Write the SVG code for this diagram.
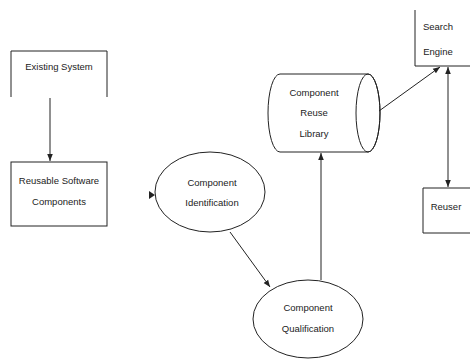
<svg xmlns="http://www.w3.org/2000/svg" width="470" height="361" viewBox="0 0 470 361">
<defs>
<style>
.s{fill:none;stroke:#222;stroke-width:1}
.w{fill:#fff;stroke:#222;stroke-width:1}
text{font-family:"Liberation Sans",Arial,sans-serif;font-size:9.5px;fill:#222;text-anchor:middle}
</style>
<marker id="ah" viewBox="0 0 10 10" refX="10" refY="5" markerWidth="7" markerHeight="7" orient="auto-start-reverse" markerUnits="userSpaceOnUse">
<path d="M0,1 L10,5 L0,9 Z" fill="#222"/>
</marker>
</defs>
<rect width="470" height="361" fill="#fff"/>
<g id="existing-system">
<path class="s" d="M11,97 V51 H107 V97"/>
<text x="59" y="70">Existing System</text>
</g>
<g id="reusable-components">
<rect class="w" x="11" y="162" width="96" height="64"/>
<text x="59" y="184">Reusable Software</text>
<text x="59" y="205">Components</text>
</g>
<g id="component-identification">
<ellipse class="w" cx="210" cy="192" rx="55" ry="40"/>
<text x="212" y="186">Component</text>
<text x="212" y="206">Identification</text>
</g>
<g id="component-qualification">
<ellipse class="w" cx="308" cy="319" rx="55" ry="39"/>
<text x="308" y="311">Component</text>
<text x="308" y="332">Qualification</text>
</g>
<g id="reuse-library">
<path class="w" d="M280,74 H368 A12,39 0 0 1 368,152 H280 A12,39 0 0 1 280,74 Z"/>
<ellipse class="s" cx="368" cy="113" rx="12" ry="39"/>
<text x="314" y="96">Component</text>
<text x="314" y="116">Reuse</text>
<text x="314" y="137">Library</text>
</g>
<g id="search-engine">
<path class="s" d="M415,10 V66 H472"/>
<text x="438" y="30">Search</text>
<text x="438" y="55">Engine</text>
</g>
<g id="reuser">
<path class="s" d="M472,188 H423 V233 H472"/>
<text x="446" y="210">Reuser</text>
</g>
<g id="connectors">
<line class="s" x1="50" y1="98" x2="50" y2="161" marker-end="url(#ah)"/>
<path d="M149,191 L155,195 L149,199 Z" fill="#222"/>
<line class="s" x1="230" y1="232" x2="270" y2="287" marker-end="url(#ah)"/>
<line class="s" x1="321" y1="280" x2="321" y2="153" marker-end="url(#ah)"/>
<line class="s" x1="379" y1="111" x2="440" y2="67" marker-end="url(#ah)"/>
<line class="s" x1="448" y1="67" x2="448" y2="187" marker-start="url(#ah)" marker-end="url(#ah)"/>
</g>
</svg>
